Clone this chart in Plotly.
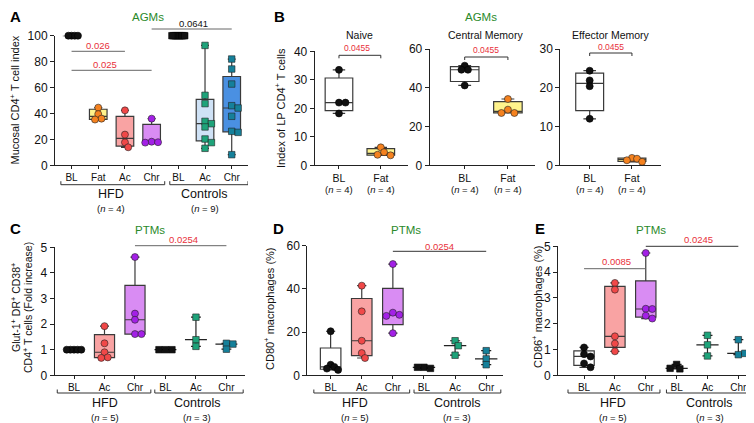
import numpy as np
import plotly.graph_objects as go

W, H = 754, 423
FONT = "Arial, Liberation Sans, Helvetica, sans-serif"

# ---------------- DATA ----------------
# Panel A (AGMs, mucosal CD4+ T cell index)
a_cats = ["BL", "Fat", "Ac", "Chr", "BL", "Ac", "Chr"]
a_hfd_bl = [100, 100, 100, 100]
a_hfd_fat = [44.5, 39.5, 36.0, 35.3]
a_hfd_ac = [42.4, 23.7, 17.7, 13.9]
a_hfd_chr = [36.0, 18.2, 17.8, 17.5]
a_ctl_bl = [100, 100, 100, 100, 100, 100, 100, 100, 100]
a_ctl_ac = [92.5, 54.0, 47.6, 33.9, 32.1, 29.6, 20.3, 17.5, 13.1]
a_ctl_chr = [82.0, 74.3, 62.7, 46.0, 44.2, 37.8, 26.2, 25.4, 8.2]
a_yticks = [0, 20, 40, 60, 80, 100]

# Panel B (AGMs, LP CD4+ T cell subsets)
b_cats = ["BL", "Fat"]
b_naive_bl = [33.5, 22.0, 22.0, 18.2]
b_naive_fat = [6.3, 4.6, 3.7, 3.5]
b_cm_bl = [51.4, 49.3, 49.3, 41.2]
b_cm_fat = [34.2, 28.7, 27.0, 27.0]
b_em_bl = [24.4, 21.9, 20.4, 12.0]
b_em_fat = [1.9, 1.7, 1.3, 0.9]
b1_yticks = [0, 10, 20, 30, 40]
b2_yticks = [0, 20, 40, 60]
b3_yticks = [0, 10, 20, 30]

# Panels C-E (PTMs)
cde_cats = ["BL", "Ac", "Chr", "BL", "Ac", "Chr"]
c_hfd_bl = [1.0, 1.0, 1.0, 1.0, 1.0]
c_hfd_ac = [1.92, 1.25, 0.90, 0.70, 0.68]
c_hfd_chr = [4.62, 2.41, 2.17, 1.61, 1.61]
c_ctl_bl = [1.0, 1.0, 1.0]
c_ctl_ac = [2.27, 1.39, 1.13]
c_ctl_chr = [1.25, 1.22, 1.02]
c_yticks = [0, 1, 2, 3, 4, 5]

d_hfd_bl = [20.4, 4.9, 3.9, 3.1, 2.5]
d_hfd_ac = [41.5, 29.6, 16.0, 10.3, 8.0]
d_hfd_chr = [51.5, 29.0, 28.0, 27.5, 19.5]
d_ctl_bl = [3.7, 3.2, 3.7]
d_ctl_ac = [16.0, 13.7, 9.3]
d_ctl_chr = [11.4, 7.6, 4.9]
d_yticks = [0, 20, 40, 60]

e_hfd_bl = [1.08, 0.82, 0.73, 0.46, 0.31]
e_hfd_ac = [3.58, 3.32, 1.51, 1.23, 0.93]
e_hfd_chr = [4.74, 2.58, 2.57, 2.31, 2.20]
e_ctl_bl = [0.42, 0.25, 0.27]
e_ctl_ac = [1.55, 1.18, 0.75]
e_ctl_chr = [1.38, 0.80, 0.85]
e_yticks = [0, 1, 2, 3, 4, 5]

# ---------------- STYLE ----------------
STY = {
    "bl": dict(pt="#111111", fill="#ffffff"),
    "fat": dict(pt="#f5821f", fill="#fff38c"),
    "ac": dict(pt="#f04848", fill="#f9a3a3"),
    "chr": dict(pt="#a320e6", fill="#d98cf3"),
    "ac_c": dict(pt="#1ea37a", fill="#cfe2f6"),
    "chr_c": dict(pt="#15809a", fill="#4a90e2"),
}
AX = "#222222"
BOXLINE = "#3a3a3a"
RED = "#e8303a"
GREEN = "#2a8a2a"


def px(x):
    return x / W


def py(y):
    return 1 - y / H


# panel geometry (pixels) and axis ranges
panels = [
    dict(id="", l=47, r=240, t=27.7, b=157.3, xr=(-0.62, 6.61), yr=(0, 100), yt=a_yticks, cats=a_cats, xfs=10),
    dict(id="2", l=306.7, r=400, t=43.3, b=157.3, xr=(-0.58, 1.65), yr=(0, 40), yt=b1_yticks, cats=b_cats, xfs=10.5),
    dict(id="3", l=421.7, r=526.7, t=41, b=157.3, xr=(-0.81, 1.62), yr=(0, 60), yt=b2_yticks, cats=b_cats, xfs=10.5),
    dict(id="4", l=552.3, r=652.7, t=41, b=157.3, xr=(-0.695, 1.68), yr=(0, 30), yt=b3_yticks, cats=b_cats, xfs=10.5),
    dict(id="5", l=46.7, r=236.7, t=239.3, b=367.3, xr=(-0.634, 5.60), yr=(0, 5), yt=c_yticks, cats=cde_cats, xfs=10),
    dict(id="6", l=299.3, r=495, t=237.7, b=367.3, xr=(-0.75, 5.54), yr=(0, 60), yt=d_yticks, cats=cde_cats, xfs=10),
    dict(id="7", l=550, r=746.7, t=238.3, b=367.3, xr=(-0.844, 5.53), yr=(0, 5), yt=e_yticks, cats=cde_cats, xfs=10),
]

# groups per panel: (position, values, style, symbol, kind)
groups = [
    [(0, a_hfd_bl, "bl", "circle", "box"), (1, a_hfd_fat, "fat", "circle", "box"),
     (2, a_hfd_ac, "ac", "circle", "box"), (3, a_hfd_chr, "chr", "circle", "box"),
     (4, a_ctl_bl, "bl", "square", "box"), (5, a_ctl_ac, "ac_c", "square", "box"),
     (6, a_ctl_chr, "chr_c", "square", "box")],
    [(0, b_naive_bl, "bl", "circle", "box"), (1, b_naive_fat, "fat", "circle", "box")],
    [(0, b_cm_bl, "bl", "circle", "box"), (1, b_cm_fat, "fat", "circle", "box")],
    [(0, b_em_bl, "bl", "circle", "box"), (1, b_em_fat, "fat", "circle", "box")],
    [(0, c_hfd_bl, "bl", "circle", "box"), (1, c_hfd_ac, "ac", "circle", "box"),
     (2, c_hfd_chr, "chr", "circle", "box"), (3, c_ctl_bl, "bl", "square", "range"),
     (4, c_ctl_ac, "ac_c", "square", "range"), (5, c_ctl_chr, "chr_c", "square", "range")],
    [(0, d_hfd_bl, "bl", "circle", "box"), (1, d_hfd_ac, "ac", "circle", "box"),
     (2, d_hfd_chr, "chr", "circle", "box"), (3, d_ctl_bl, "bl", "square", "range"),
     (4, d_ctl_ac, "ac_c", "square", "range"), (5, d_ctl_chr, "chr_c", "square", "range")],
    [(0, e_hfd_bl, "bl", "circle", "box"), (1, e_hfd_ac, "ac", "circle", "box"),
     (2, e_hfd_chr, "chr", "circle", "box"), (3, e_ctl_bl, "bl", "square", "range"),
     (4, e_ctl_ac, "ac_c", "square", "range"), (5, e_ctl_chr, "chr_c", "square", "range")],
]


def swarm(vals, ppu_x, ppu_y, d=6.5, cap=0.24):
    placed, offs = [], []
    for v in vals:
        y = v * ppu_y
        cand = 0.0
        for k in range(0, 30):
            cand = 0.0 if k == 0 else ((k + 1) // 2) * d * 0.5 * (1 if k % 2 else -1)
            if all((cand - ox) ** 2 + (y - oy) ** 2 >= (d * 0.8) ** 2 for ox, oy in placed):
                break
        placed.append((cand, y))
        offs.append(cand / ppu_x)
    m = max(abs(o) for o in offs) if offs else 0
    if m > cap:
        offs = [o * cap / m for o in offs]
    return np.array(offs)


fig = go.Figure()
layout = dict(template="none", width=W, height=H, margin=dict(l=0, r=0, t=0, b=0, pad=0),
              paper_bgcolor="white", plot_bgcolor="white", showlegend=False, boxmode="overlay",
              font=dict(family=FONT, color="#111111", size=11))

for P, G in zip(panels, groups):
    sid = P["id"]
    xa, ya = "x" + sid, "y" + sid
    ppu_x = (P["r"] - P["l"]) / (P["xr"][1] - P["xr"][0])
    ppu_y = (P["b"] - P["t"]) / (P["yr"][1] - P["yr"][0])
    layout["xaxis" + sid] = dict(
        domain=[px(P["l"]), px(P["r"])], range=list(P["xr"]), anchor=ya, automargin=False,
        showline=True, linecolor=AX, linewidth=1, ticks="outside", ticklen=3,
        tickcolor=AX, tickvals=list(range(len(P["cats"]))), ticktext=P["cats"],
        tickfont=dict(size=P["xfs"], family=FONT, color="#111"), showgrid=False,
        zeroline=False, fixedrange=True)
    layout["yaxis" + sid] = dict(
        domain=[py(P["b"]), py(P["t"])], range=list(P["yr"]), anchor=xa, automargin=False,
        showline=True, linecolor=AX, linewidth=1, ticks="outside", ticklen=4,
        tickcolor=AX, tickvals=P["yt"], tickfont=dict(size=12, family=FONT, color="#111"),
        showgrid=False, zeroline=False, fixedrange=True)
    for pos, vals, sk, sym, kind in G:
        v = np.array(vals, dtype=float)
        q1, med, q3 = np.percentile(v, [25, 50, 75], method="weibull")
        if kind == "range":
            q1 = q3 = med
            fill = "rgba(0,0,0,0)"
            lc = "#222222"
            bw = 0.72
        else:
            fill = STY[sk]["fill"]
            lc = BOXLINE
            bw = 0.66
        fig.add_trace(go.Box(
            x=[pos], q1=[q1], median=[med], q3=[q3], lowerfence=[v.min()],
            upperfence=[v.max()], width=bw, fillcolor=fill,
            line=dict(color=lc, width=1.2), whiskerwidth=0.45, boxpoints=False,
            xaxis=xa, yaxis=ya, hoverinfo="skip"))
        offs = swarm(v, ppu_x, ppu_y)
        fig.add_trace(go.Scatter(
            x=pos + offs, y=v, mode="markers", xaxis=xa, yaxis=ya, cliponaxis=False,
            marker=dict(symbol=sym, size=7 if sym == "circle" else 6.5,
                        color=STY[sk]["pt"], line=dict(width=0.6, color="#222" if sk != "bl" else "#000")),
            hoverinfo="skip"))

ann = []
shapes = []


def text(x, y, s, size=11, color="#111", angle=0, bold=False):
    if bold:
        s = "<b>" + s + "</b>"
    ann.append(dict(x=px(x), y=py(y), xref="paper", yref="paper", text=s, showarrow=False,
                    font=dict(size=size, color=color, family=FONT), textangle=angle,
                    xanchor="center", yanchor="middle"))


def hline(axid, x0, x1, ypx, color="#555", width=1):
    shapes.append(dict(type="line", xref="x" + axid, yref="paper", x0=x0, x1=x1,
                       y0=py(ypx), y1=py(ypx), line=dict(color=color, width=width)))


def vline(axid, x, y0px, y1px, color="#555", width=1):
    shapes.append(dict(type="line", xref="x" + axid, yref="paper", x0=x, x1=x,
                       y0=py(y0px), y1=py(y1px), line=dict(color=color, width=width)))


def bracket_under(axid, x0, x1, ypx, h=3.5):
    hline(axid, x0, x1, ypx, color="#333")
    vline(axid, x0, ypx, ypx - h, color="#333")
    vline(axid, x1, ypx, ypx - h, color="#333")


def bracket_over(axid, x0, x1, ypx, h=3):
    hline(axid, x0, x1, ypx, color="#333")
    vline(axid, x0, ypx, ypx + h, color="#333")
    vline(axid, x1, ypx, ypx + h, color="#333")


# panel letters
for lx, ly, L in [(7, 8, "A"), (271.7, 8, "B"), (7, 220, "C"), (270, 220, "D"), (532, 220, "E")]:
    text(lx, ly, L, size=15, bold=True, color="#000")

# group titles
text(140, 9.5, "AGMs", size=11.5, color=GREEN)
text(473, 9.5, "AGMs", size=11.5, color=GREEN)
text(141.7, 221.7, "PTMs", size=11.5, color=GREEN)
text(398.3, 221.7, "PTMs", size=11.5, color=GREEN)
text(643.3, 221.7, "PTMs", size=11.5, color=GREEN)
text(351, 27.3, "Naive", size=10.5)
text(477.5, 27.3, "Central Memory", size=10.5)
text(603.3, 27.3, "Effector Memory", size=10.5)

# y-axis titles
text(6.5, 92, "Mucosal CD4<sup>+</sup> T cell index", size=11, angle=-90)
text(272, 100, "Index of LP CD4<sup>+</sup> T cells", size=11, angle=-90)
text(7, 300, "Glut-1<sup>+</sup> DR<sup>+</sup> CD38<sup>+</sup>", size=10.5, angle=-90)
text(19, 300, "CD4<sup>+</sup> T cells (Fold increase)", size=10.5, angle=-90)
text(261, 301, "CD80<sup>+</sup> macrophages (%)", size=11, angle=-90)
text(529, 299, "CD86<sup>+</sup> macrophages (%)", size=11, angle=-90)

# group brackets under x axis and labels
bracket_under("", -0.40, 3.49, 176.7)
bracket_under("", 3.68, 6.61, 176.7)
text(103.3, 186, "HFD", size=12.5)
text(103.3, 200, "(<i>n</i> = 4)", size=9.5)
text(196.7, 186, "Controls", size=12.5)
text(196.7, 200, "(<i>n</i> = 9)", size=9.5)

for sid, x0a, x1a, x0b, x1b, hc, cc in [("5", -0.55, 2.52, 2.65, 5.55, 96.7, 189.3),
                                         ("6", -0.54, 2.54, 2.68, 5.47, 346.7, 449.3),
                                         ("7", -0.52, 2.46, 2.67, 5.49, 605, 701.7)]:
    bracket_under(sid, x0a, x1a, 385)
    bracket_under(sid, x0b, x1b, 385)
    text(hc, 395, "HFD", size=12.5)
    text(hc, 409.5, "(<i>n</i> = 5)", size=9.5)
    text(cc, 395, "Controls", size=12.5)
    text(cc, 409.5, "(<i>n</i> = 3)", size=9.5)

# B n labels
for cx in [331, 372.7, 456.7, 500, 581.7, 624]:
    text(cx, 182, "(<i>n</i> = 4)", size=9.5)

# significance markers
hline("", 0, 2, 43.3, color="#666")
text(90, 37.5, "0.026", size=9.5, color=RED)
hline("", 0, 3, 62.3, color="#666")
text(97, 57, "0.025", size=9.5, color=RED)
hline("", 3, 6, 21, color="#666")
text(185, 15, "0.0641", size=9.5, color="#111")

bracket_over("2", 0, 1, 47.3)
text(349, 40, "0.0455", size=8.5, color=RED)
bracket_over("3", 0, 1, 49)
text(478, 42.3, "0.0455", size=8.5, color=RED)
bracket_over("4", 0, 1, 45)
text(603, 39.3, "0.0455", size=8.5, color=RED)

hline("5", 2, 5, 237.7, color="#666")
text(175, 231.5, "0.0254", size=9.5, color=RED)
hline("6", 2, 5, 243.3, color="#333")
text(431.7, 238, "0.0254", size=9.5, color=RED)
hline("7", 0, 2, 260.7, color="#666")
text(608, 253.3, "0.0085", size=9.5, color=RED)
hline("7", 2, 5, 238.3, color="#333")
text(690, 231.5, "0.0245", size=9.5, color=RED)

layout["annotations"] = ann
layout["shapes"] = shapes
fig.update_layout(**layout)
fig.write_html("out.html")
